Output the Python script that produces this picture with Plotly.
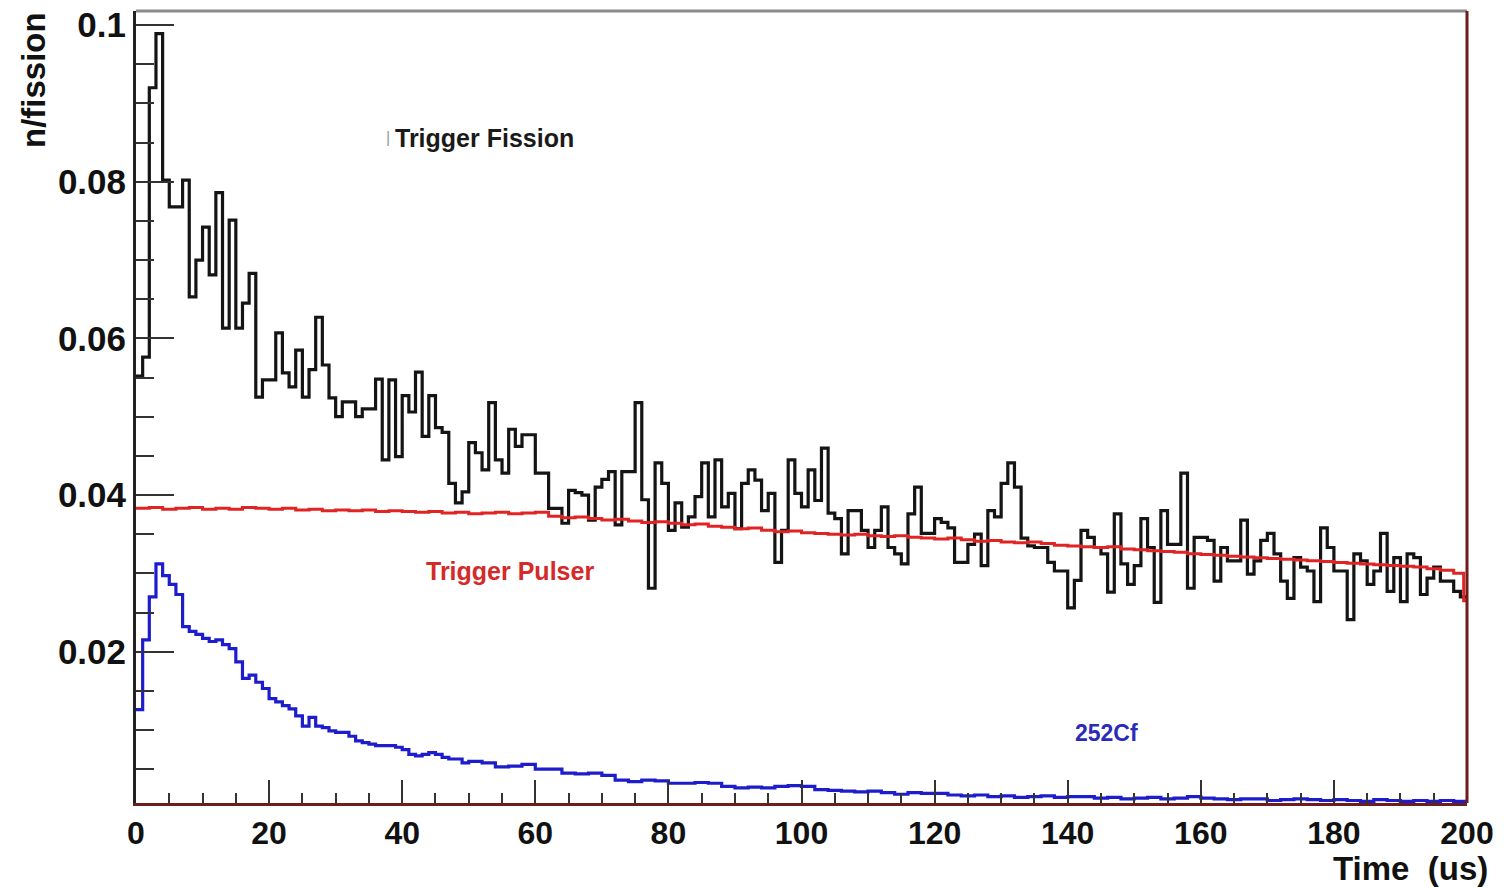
import numpy as np
import plotly.graph_objects as go

# ---------------- data ----------------
# Trigger Fission (black), 1 us bins from 0 to 200 us
black_values = [
    0.0552, 0.0576, 0.0920, 0.0989, 0.0802, 0.0768, 0.0768, 0.0802, 0.0653, 0.0700,
    0.0742, 0.0681, 0.0786, 0.0613, 0.0751, 0.0613, 0.0645, 0.0683, 0.0525, 0.0547,
    0.0547, 0.0607, 0.0556, 0.0538, 0.0585, 0.0525, 0.0560, 0.0627, 0.0566, 0.0524,
    0.0500, 0.0519, 0.0519, 0.0500, 0.0510, 0.0510, 0.0548, 0.0445, 0.0547, 0.0449,
    0.0527, 0.0506, 0.0557, 0.0475, 0.0527, 0.0486, 0.0480, 0.0415, 0.0390, 0.0404,
    0.0467, 0.0454, 0.0432, 0.0518, 0.0445, 0.0428, 0.0484, 0.0462, 0.0477, 0.0477,
    0.0428, 0.0428, 0.0383, 0.0383, 0.0364, 0.0406, 0.0403, 0.0400, 0.0368, 0.0410,
    0.0420, 0.0430, 0.0362, 0.0430, 0.0430, 0.0518, 0.0394, 0.0281, 0.0441, 0.0415,
    0.0355, 0.0390, 0.0359, 0.0372, 0.0398, 0.0441, 0.0372, 0.0445, 0.0385, 0.0402,
    0.0357, 0.0415, 0.0432, 0.0419, 0.0380, 0.0402, 0.0314, 0.0355, 0.0445, 0.0402,
    0.0385, 0.0432, 0.0393, 0.0460, 0.0377, 0.0370, 0.0325, 0.0380, 0.0380, 0.0355,
    0.0333, 0.0355, 0.0385, 0.0333, 0.0325, 0.0312, 0.0376, 0.0410, 0.0351, 0.0351,
    0.0370, 0.0365, 0.0358, 0.0314, 0.0314, 0.0337, 0.0350, 0.0310, 0.0380, 0.0372,
    0.0415, 0.0441, 0.0410, 0.0345, 0.0335, 0.0333, 0.0333, 0.0314, 0.0303, 0.0303,
    0.0256, 0.0291, 0.0355, 0.0346, 0.0333, 0.0325, 0.0276, 0.0376, 0.0312, 0.0286,
    0.0310, 0.0370, 0.0333, 0.0263, 0.0380, 0.0337, 0.0337, 0.0428, 0.0281, 0.0346,
    0.0346, 0.0342, 0.0290, 0.0333, 0.0316, 0.0316, 0.0368, 0.0299, 0.0316, 0.0342,
    0.0351, 0.0325, 0.0290, 0.0268, 0.0320, 0.0308, 0.0303, 0.0264, 0.0358, 0.0333,
    0.0303, 0.0303, 0.0241, 0.0325, 0.0316, 0.0286, 0.0303, 0.0351, 0.0277, 0.0320,
    0.0264, 0.0325, 0.0320, 0.0273, 0.0294, 0.0308, 0.0290, 0.0290, 0.0277, 0.0270,
]

# Trigger Pulser (red), 2 us bins up to 198 us, then two short end bins
red_values = [
    0.0383, 0.0384, 0.0382, 0.0383, 0.0384, 0.0382, 0.0383, 0.0382, 0.0384, 0.0383,
    0.0382, 0.0383, 0.0381, 0.0382, 0.0380, 0.0381, 0.0380, 0.0381, 0.0379, 0.0380,
    0.0379, 0.0378, 0.0379, 0.0377, 0.0378, 0.0376, 0.0377, 0.0378, 0.0376, 0.0377,
    0.0378, 0.0373, 0.0371, 0.0372, 0.0370, 0.0368, 0.0369, 0.0367, 0.0365, 0.0366,
    0.0364, 0.0362, 0.0363, 0.0360, 0.0359, 0.0357, 0.0358, 0.0355, 0.0353, 0.0354,
    0.0352, 0.0351, 0.0350, 0.0349, 0.0350, 0.0348, 0.0347, 0.0348, 0.0346, 0.0345,
    0.0344, 0.0345, 0.0343, 0.0341, 0.0342, 0.0340, 0.0339, 0.0340, 0.0338, 0.0336,
    0.0335, 0.0334, 0.0333, 0.0334, 0.0331, 0.0330, 0.0329, 0.0328, 0.0327, 0.0325,
    0.0324, 0.0323, 0.0322, 0.0321, 0.0320, 0.0319, 0.0318, 0.0317, 0.0316, 0.0315,
    0.0314, 0.0313, 0.0312, 0.0311, 0.0310, 0.0309, 0.0308, 0.0306, 0.0304,
    0.0300, 0.0265,
]
red_edges = list(np.arange(0, 198 + 1, 2)) + [199.5, 200]

# 252Cf (blue): 1 us bins for 0-50 us, then 2 us bins for 50-200 us
blue_fine = [
    0.0126, 0.0215, 0.0270, 0.0312, 0.0297, 0.0286, 0.0273, 0.0232, 0.0226, 0.0222,
    0.0217, 0.0213, 0.0215, 0.0209, 0.0204, 0.0187, 0.0166, 0.0170, 0.0161, 0.0153,
    0.0140, 0.0136, 0.0131, 0.0127, 0.0118, 0.0105, 0.0116, 0.0105, 0.0103, 0.0099,
    0.0097, 0.0097, 0.0092, 0.0086, 0.0084, 0.0082, 0.0080, 0.0080, 0.0080, 0.0078,
    0.0075, 0.0069, 0.0067, 0.0069, 0.0071, 0.0069, 0.0065, 0.0063, 0.0063, 0.0058,
]
blue_coarse = [
    0.0060, 0.0058, 0.0053, 0.0054, 0.0056, 0.0050, 0.0050, 0.0045, 0.0044, 0.0045,
    0.0042, 0.0036, 0.0034, 0.0036, 0.0035, 0.0032, 0.0032, 0.0033, 0.0032, 0.0028,
    0.0026, 0.0027, 0.0026, 0.0028, 0.0029, 0.0028, 0.0024, 0.0023, 0.0022, 0.0021,
    0.0022, 0.0020, 0.0018, 0.0020, 0.0019, 0.0019, 0.0017, 0.0016, 0.0017, 0.0015,
    0.0016, 0.0014, 0.0015, 0.0016, 0.0014, 0.0015, 0.0015, 0.0013, 0.0014, 0.0012,
    0.0013, 0.0014, 0.0012, 0.0013, 0.0015, 0.0013, 0.0012, 0.0011, 0.0012, 0.0012,
    0.0010, 0.0011, 0.0012, 0.0011, 0.0010, 0.0011, 0.0010, 0.0009, 0.0011, 0.0010,
    0.0009, 0.0010, 0.0009, 0.0010, 0.0009,
]

x_tick_vals = [0, 20, 40, 60, 80, 100, 120, 140, 160, 180, 200]
y_tick_vals = [0.02, 0.04, 0.06, 0.08, 0.1]
y_tick_text = ["0.02", "0.04", "0.06", "0.08", "0.1"]

assert len(black_values) == 200
assert len(red_values) == len(red_edges) - 1
assert len(blue_fine) == 50 and len(blue_coarse) == 75

black_edges = list(np.arange(0, 201, 1))
blue_values = blue_fine + blue_coarse
blue_edges = list(np.arange(0, 50, 1)) + list(np.arange(50, 201, 2))


def step(edges, values):
    return list(edges), list(values) + [values[-1]]


fig = go.Figure()
for edges, vals, col, w in [
    (black_edges, black_values, "#141414", 3.2),
    (red_edges, red_values, "#e02424", 3),
    (blue_edges, blue_values, "#1d1dcc", 3.2),
]:
    xs, ys = step(edges, vals)
    fig.add_trace(go.Scatter(x=xs, y=ys, mode="lines", line=dict(color=col, width=w, shape="hv"),
                             showlegend=False, hoverinfo="skip"))

FONT = "Liberation Sans, Arial, sans-serif"

fig.update_layout(
    width=1508, height=889,
    margin=dict(l=136, r=41, t=11, b=86),
    paper_bgcolor="white", plot_bgcolor="white",
    font=dict(family=FONT, color="#111"),
    xaxis=dict(
        range=[0, 200], tickvals=x_tick_vals, showgrid=False, zeroline=False, automargin=False,
        ticks="inside", ticklen=23, tickwidth=2, tickcolor="#333",
        showline=True, linecolor="#6e1c1c", linewidth=3,
        tickfont=dict(family=FONT, size=32, color="#111", weight="bold"),
        minor=dict(dtick=5, tick0=0, ticks="inside", ticklen=10, tickwidth=2, tickcolor="#333", showgrid=False),
    ),
    yaxis=dict(
        range=[0.00068, 0.1018], tickvals=y_tick_vals, ticktext=y_tick_text,
        showgrid=False, zeroline=False, automargin=False,
        ticks="inside", ticklen=38, tickwidth=2, tickcolor="#333",
        showline=True, linecolor="#222", linewidth=3,
        tickfont=dict(family=FONT, size=35, color="#111", weight="bold"),
        minor=dict(dtick=0.005, tick0=0, ticks="inside", ticklen=18, tickwidth=2, tickcolor="#333", showgrid=False),
    ),
    shapes=[
        dict(type="line", xref="paper", yref="paper", x0=0, x1=1, y0=1, y1=1,
             line=dict(color="#8a8a8a", width=3)),
        dict(type="line", xref="paper", yref="paper", x0=1, x1=1, y0=0, y1=1,
             line=dict(color="#6e1c1c", width=3)),
    ],
    annotations=[
        dict(x=52.4, y=0.0856, xref="x", yref="y", text="<b>Trigger Fission</b>", showarrow=False,
             font=dict(family=FONT, size=25, color="#1a1a1a")),
        dict(x=37.9, y=0.0856, xref="x", yref="y", text="|", showarrow=False,
             font=dict(family=FONT, size=16, color="#9a9a9a")),
        dict(x=56.2, y=0.0303, xref="x", yref="y", text="<b>Trigger Pulser</b>", showarrow=False,
             font=dict(family=FONT, size=25, color="#d42a2a")),
        dict(x=145.9, y=0.0096, xref="x", yref="y", text="<b>252Cf</b>", showarrow=False,
             font=dict(family=FONT, size=23, color="#2b2bb8")),
        dict(x=(1490 - 136) / 1331, y=(803 - 868) / 792, xref="paper", yref="paper",
             xanchor="right", yanchor="middle", text="<b>Time  (us)</b>", showarrow=False,
             font=dict(family=FONT, size=33, color="#111")),
        dict(x=(34 - 136) / 1331, y=(803 - 10) / 792, xref="paper", yref="paper",
             xanchor="center", yanchor="top", textangle=-90, text="<b>n/fission</b>", showarrow=False,
             font=dict(family=FONT, size=33, color="#111")),
    ],
)

fig.write_html("out.html")
